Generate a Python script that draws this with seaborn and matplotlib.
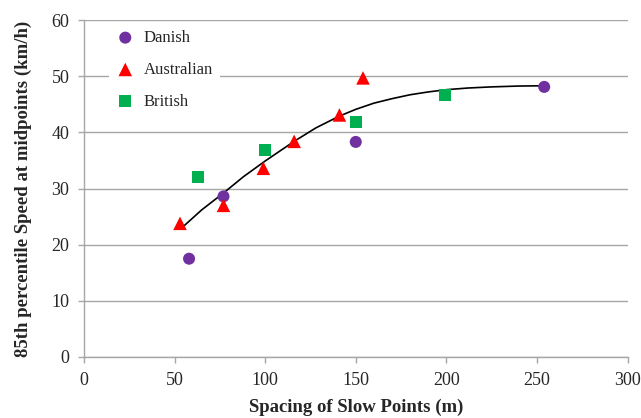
import matplotlib
matplotlib.use("Agg")
import matplotlib.pyplot as plt
import pandas as pd
import seaborn as sns

# Values
danish_x = [58, 77, 150, 254]
danish_y = [17.5, 28.6, 38.3, 48.1]
australian_x = [53, 77, 99, 116, 141, 154]
australian_y = [23.8, 27.0, 33.6, 38.4, 43.1, 49.7]
british_x = [63, 100, 150, 199]
british_y = [32.1, 36.9, 41.8, 46.6]
# trend curve, read at several spacings
trend_x = [54, 65, 77, 88, 100, 116, 128, 141, 150, 160, 170, 180,
           190, 200, 212, 225, 240, 254]
trend_y = [23.0, 26.2, 29.2, 32.1, 34.9, 38.4, 40.8, 42.9, 44.1, 45.2,
           46.0, 46.7, 47.2, 47.6, 47.9, 48.1, 48.25, 48.3]

df = pd.concat([
    pd.DataFrame({"spacing": danish_x, "speed": danish_y, "group": "Danish"}),
    pd.DataFrame({"spacing": australian_x, "speed": australian_y, "group": "Australian"}),
    pd.DataFrame({"spacing": british_x, "speed": british_y, "group": "British"}),
], ignore_index=True)

sns.set_style("white")
plt.rcParams["font.family"] = ["Liberation Serif", "DejaVu Serif"]

fig = plt.figure(figsize=(6.41, 4.18), dpi=100)
ax = fig.add_axes([0.131, 0.146, 0.848, 0.806])

ax.yaxis.grid(True, color="#a6a6a6", lw=1)
ax.set_axisbelow(True)

sns.lineplot(x=trend_x, y=trend_y, color="black", lw=1.2, ax=ax, sort=False)

palette = {"Danish": "#7030a0", "Australian": "#ff0000", "British": "#00b050"}
markers = {"Danish": "o", "Australian": "^", "British": "s"}
sizes = {"Danish": 75, "Australian": 95, "British": 75}
for name in ["Danish", "Australian", "British"]:
    sub = df[df["group"] == name]
    sns.scatterplot(data=sub, x="spacing", y="speed", color=palette[name],
                    marker=markers[name], s=sizes[name], edgecolor="none",
                    label=name, ax=ax, zorder=3)

ax.set_xlim(0, 300)
ax.set_ylim(0, 60)
ax.set_xticks(range(0, 301, 50))
ax.set_yticks(range(0, 61, 10))

for s in ["top", "right"]:
    ax.spines[s].set_visible(False)
for s in ["left", "bottom"]:
    ax.spines[s].set_color("#a6a6a6")
    ax.spines[s].set_linewidth(1)
ax.tick_params(axis="both", which="major", length=4.5, width=1, color="#a6a6a6",
               labelsize=13, direction="out", left=True, bottom=True, pad=6)

ax.set_xlabel("Spacing of Slow Points (m)", fontsize=13.5, fontweight="bold", labelpad=7)
ax.set_ylabel("85th percentile Speed at midpoints (km/h)", fontsize=13.5,
              fontweight="bold", labelpad=14)

leg = ax.legend(loc="upper left", bbox_to_anchor=(0.03, 1.015), frameon=True,
                fontsize=12, labelspacing=0.95, handletextpad=0.5,
                borderpad=0.4, handlelength=1.2)
leg.get_frame().set_edgecolor("none")
leg.get_frame().set_facecolor("white")
leg.get_frame().set_alpha(1)

fig.savefig("out.png", dpi=100)
